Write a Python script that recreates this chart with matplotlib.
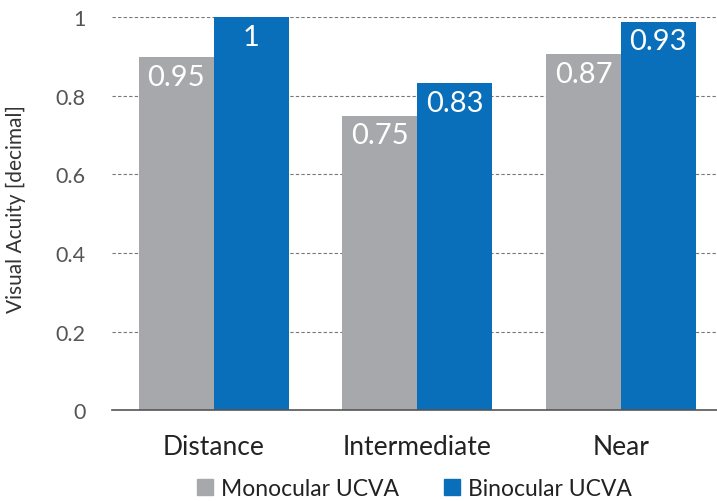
import numpy as np
import matplotlib
matplotlib.use("Agg")
import matplotlib.pyplot as plt
from matplotlib.patches import Patch

# data (bar heights as drawn, labels as printed)
categories = ["Distance", "Intermediate", "Near"]
mono_heights = [0.898, 0.749, 0.906]
bino_heights = [1.0, 0.832, 0.988]
mono_labels = ["0.95", "0.75", "0.87"]
bino_labels = ["1", "0.83", "0.93"]
yticks = [0, 0.2, 0.4, 0.6, 0.8, 1.0]
ytick_labels = ["0", "0.2", "0.4", "0.6", "0.8", "1"]

grey = "#A7A8AB"
blue = "#0A6FBA"

plt.rcParams["font.family"] = ["Lato", "DejaVu Sans"]

fig = plt.figure(figsize=(7.17, 5.02), dpi=100)
ax = fig.add_axes([0.156, 0.181, 0.844, 0.783])

x = np.arange(len(categories))
w = 0.368
b1 = ax.bar(x - w / 2, mono_heights, w, color=grey, zorder=3)
b2 = ax.bar(x + w / 2, bino_heights, w, color=blue, zorder=3)

for bars, labs in ((b1, mono_labels), (b2, bino_labels)):
    for r, t in zip(bars, labs):
        ax.text(r.get_x() + r.get_width() / 2, r.get_height() - 0.05, t,
                ha="center", va="center", color="white", fontsize=21, zorder=4)

ax.set_xlim(-0.5, 2.472)
ax.set_ylim(0, 1)
ax.set_yticks(yticks)
ax.set_yticklabels(ytick_labels)
ax.set_xticks(x)
ax.set_xticklabels(categories)
ax.tick_params(axis="y", length=0, pad=19, labelsize=15.5, labelcolor="#555555")
ax.tick_params(axis="x", length=0, pad=17, labelsize=19, labelcolor="#222222")

for s in ("top", "right", "left"):
    ax.spines[s].set_visible(False)
ax.spines["bottom"].set_color("#555555")
ax.spines["bottom"].set_linewidth(1.2)
ax.spines["bottom"].set_zorder(5)

ax.yaxis.grid(True, linestyle=(0, (3, 2)), color="#777777", linewidth=0.8, zorder=0)
ax.set_axisbelow(True)

ax.set_ylabel("Visual Acuity [decimal]", fontsize=15, color="#333333")
ax.yaxis.set_label_coords(-0.142, 0.515)

handles = [Patch(color=grey, label="Monocular UCVA"), Patch(color=blue, label="Binocular UCVA")]
fig.legend(handles=handles, loc="center", bbox_to_anchor=(0.578, 0.024), ncol=2, frameon=False,
           fontsize=16.5, handlelength=0.7, handleheight=0.7, handletextpad=0.35, columnspacing=2.0,
           labelcolor="#222222")

fig.savefig("out.png", dpi=100)
